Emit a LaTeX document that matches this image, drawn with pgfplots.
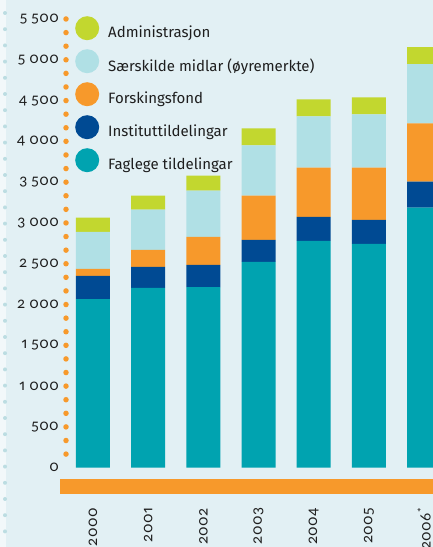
\documentclass[border=0pt]{standalone}
\usepackage{fontspec}
\setmainfont{Fira Sans}[Numbers=OldStyle]
\newfontfamily\numfont{Lato}[Numbers={OldStyle,Proportional}, LetterSpace=3]
\usepackage{pgfplots}
\pgfplotsset{compat=1.18}
\definecolor{bg}{HTML}{E2F0F4}
\definecolor{cteal}{HTML}{00A3B0}
\definecolor{cdblue}{HTML}{004A93}
\definecolor{corange}{HTML}{F7992B}
\definecolor{clblue}{HTML}{B0E0E5}
\definecolor{clime}{HTML}{C2D72F}
\definecolor{cdot}{HTML}{BCDDE2}
\definecolor{ctext}{HTML}{1E1E1E}
\begin{document}
\begin{tikzpicture}
\useasboundingbox (0pt,0pt) rectangle (433pt,547pt);
\clip (0pt,0pt) rectangle (433pt,547pt);
\fill[bg] (0pt,0pt) rectangle (433pt,547pt);
\fill[white!55!bg] (0pt,0pt) rectangle (5.5pt,547pt);
\draw[cdot, line width=4pt, line cap=round, dash pattern=on 0pt off 16.2pt] (5pt,534pt) -- (5pt,0pt);
\draw[corange, line width=5.5pt, line cap=round, dash pattern=on 0pt off 13.597pt] (66pt,528pt) -- (66pt,79.3pt);
\fill[corange] (60pt,53pt) rectangle (433pt,68pt);
\begin{axis}[
  at={(60pt,79.3pt)}, anchor=south west,
  width=373pt, height=467.7pt, scale only axis,
  xmin=-0.598, xmax=6.163, ymin=0, ymax=5733,
  ybar stacked, bar width=34pt,
  clip=false,
  axis line style={draw=none}, major tick length=0pt,
  xtick={0,1,2,3,4,5,6},
  xticklabels={2000,2001,2002,2003,2004,2005,2006\textsuperscript{*}},
  ytick={0,500,...,5500},
  /pgf/number format/assume math mode=true,
  /pgf/number format/1000 sep={\kern4pt},
  yticklabel style={font=\numfont\fontsize{15}{17}\selectfont, text=ctext, anchor=east, inner sep=0pt, xshift=-1pt},
  xticklabel style={rotate=90, anchor=east, inner sep=0pt, font=\numfont\fontsize{15}{17}\selectfont, text=ctext},
  xticklabel shift=40pt,
  reverse legend,
  legend cell align=left,
  legend image code/.code={\fill[#1,draw=none] (12pt,4.5pt) circle (12pt);},
  legend style={at={(0.0402,0.9658)}, anchor=north west, draw=none, fill=none, inner sep=0pt, row sep=9pt, column sep=9pt,
    nodes={inner sep=0pt, font=\fontsize{15}{18}\selectfont, text=ctext}},
]
\addplot[fill=cteal, draw=none] coordinates {(0,2067) (1,2203) (2,2215) (3,2522) (4,2781) (5,2744) (6,3187)};
\addplot[fill=cdblue, draw=none] coordinates {(0,283) (1,258) (2,271) (3,271) (4,295) (5,295) (6,320)};
\addplot[fill=corange, draw=none] coordinates {(0,86) (1,209) (2,344) (3,542) (4,603) (5,640) (6,713)};
\addplot[fill=clblue, draw=none] coordinates {(0,456) (1,492) (2,566) (3,615) (4,628) (5,652) (6,726)};
\addplot[fill=clime, draw=none] coordinates {(0,172) (1,173) (2,185) (3,209) (4,209) (5,209) (6,210)};
\legend{Faglege tildelingar, Instituttildelingar, Forskingsfond, Særskilde midlar (øyremerkte), Administrasjon}
\end{axis}
\end{tikzpicture}
\end{document}
